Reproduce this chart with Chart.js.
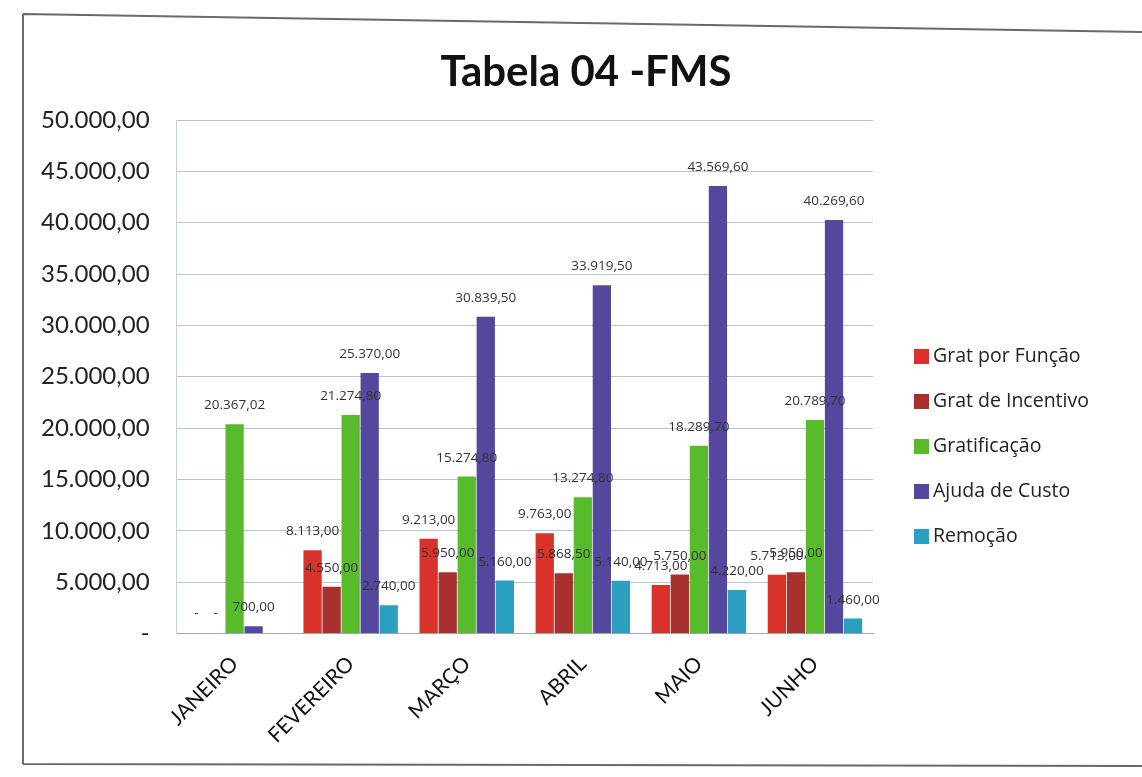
<!DOCTYPE html>
<html>
<head>
<meta charset="utf-8">
<script src="https://cdn.jsdelivr.net/npm/chart.js@4.4.0/dist/chart.umd.min.js"></script>
<style>
html,body{margin:0;padding:0;background:#fff;}
#wrap{position:relative;width:1142px;height:777px;}
</style>
</head>
<body>
<div id="wrap"><canvas id="c" width="1142" height="777"></canvas></div>
<script>
const categories = ['JANEIRO','FEVEREIRO','MARÇO','ABRIL','MAIO','JUNHO'];
const seriesNames = ['Grat por Função','Grat de Incentivo','Gratificação','Ajuda de Custo','Remoção'];
const gratPorFuncao   = [0, 8113.00, 9213.00, 9763.00, 4713.00, 5713.00];
const gratIncentivo   = [0, 4550.00, 5950.00, 5868.50, 5750.00, 5950.00];
const gratificacao    = [20367.02, 21274.80, 15274.80, 13274.80, 18289.70, 20789.70];
const ajudaCusto      = [700.00, 25370.00, 30839.50, 33919.50, 43569.60, 40269.60];
const remocao         = [null, 2740.00, 5160.00, 5140.00, 4220.00, 1460.00];
const yTicks = [0,5000,10000,15000,20000,25000,30000,35000,40000,45000,50000];
const chartTitle = 'Tabela 04 -FMS';
const colors = ['#d8322b','#a8302e','#58bb2c','#54489e','#2a9fbf'];

function fmt(v){
  if (v === 0) return '-';
  return v.toLocaleString('pt-BR',{minimumFractionDigits:2,maximumFractionDigits:2});
}

const seriesData = [gratPorFuncao, gratIncentivo, gratificacao, ajudaCusto, remocao];

const frame = {
  id:'frame',
  beforeDraw(chart){
    const ctx = chart.ctx;
    ctx.save();
    ctx.fillStyle='#fff';
    ctx.fillRect(0,0,chart.width,chart.height);
    ctx.strokeStyle='#6a6a6a';
    ctx.lineWidth=2;
    ctx.beginPath();
    ctx.moveTo(23,14); ctx.lineTo(1142,32);
    ctx.moveTo(23,14); ctx.lineTo(23,764);
    ctx.moveTo(23,764); ctx.lineTo(1142,766);
    ctx.stroke();
    ctx.restore();
  },
  afterDraw(chart){
    const ctx = chart.ctx;
    ctx.save();
    ctx.font = 'bold 42px Lato, sans-serif';
    ctx.fillStyle = '#111';
    ctx.textAlign = 'center';
    ctx.textBaseline = 'middle';
    ctx.fillText(chartTitle, 586, 72);
    ctx.restore();
  }
};

const labelsPlugin = {
  id:'valLabels',
  afterDatasetsDraw(chart){
    const ctx = chart.ctx;
    ctx.save();
    ctx.font = '13.5px "Open Sans", sans-serif';
    ctx.fillStyle = '#333';
    ctx.textAlign = 'center';
    ctx.textBaseline = 'bottom';
    chart.data.datasets.forEach((ds,i)=>{
      const meta = chart.getDatasetMeta(i);
      meta.data.forEach((bar,j)=>{
        const v = ds.data[j];
        if (v === null || v === undefined) return;
        const y = v === 0 ? bar.y - 14 : bar.y - 12;
        ctx.fillText(fmt(v), bar.x, y);
      });
    });
    ctx.restore();
  }
};

const legendPlugin = {
  id:'customLegend',
  afterDraw(chart){
    const ctx = chart.ctx;
    ctx.save();
    ctx.font = '19.5px "Open Sans", sans-serif';
    ctx.textBaseline = 'middle';
    ctx.textAlign = 'left';
    const x0 = 914, y0 = 356, gap = 45;
    chart.data.datasets.forEach((ds,i)=>{
      const y = y0 + i*gap;
      ctx.fillStyle = ds.backgroundColor;
      ctx.fillRect(x0, y-7, 15, 15);
      ctx.fillStyle = '#222';
      ctx.fillText(ds.label, x0+19, y);
    });
    ctx.restore();
  }
};

new Chart(document.getElementById('c'),{
  type:'bar',
  data:{
    labels:categories,
    datasets: seriesNames.map((n,i)=>({
      label:n,
      data:seriesData[i],
      backgroundColor:colors[i],
      borderWidth:0,
      categoryPercentage:0.82,
      barPercentage:0.96
    }))
  },
  options:{
    responsive:false,
    animation:false,
    layout:{padding:{left:14,right:269,top:120,bottom:19}},
    plugins:{
      legend:{display:false},
      tooltip:{enabled:false},
      title:{display:false}
    },
    scales:{
      x:{
        grid:{display:false},
        border:{display:true,color:'#9aa6b0'},
        ticks:{
          color:'#111',
          font:{family:'Lato, sans-serif',size:21},
          maxRotation:45,minRotation:45,
          padding:10
        }
      },
      y:{
        min:0,max:50000,
        afterBuildTicks(scale){ scale.ticks = yTicks.map(v=>({value:v})); },
        grid:{color:'#b3c6d6',lineWidth:1,drawTicks:false},
        border:{display:true,color:'#c8d0d8'},
        ticks:{
          color:'#222',
          padding:27,
          font:{family:'Lato, sans-serif',size:24},
          callback:(v)=>fmt(v)
        }
      }
    }
  },
  plugins:[frame,labelsPlugin,legendPlugin]
});
</script>
</body>
</html>
